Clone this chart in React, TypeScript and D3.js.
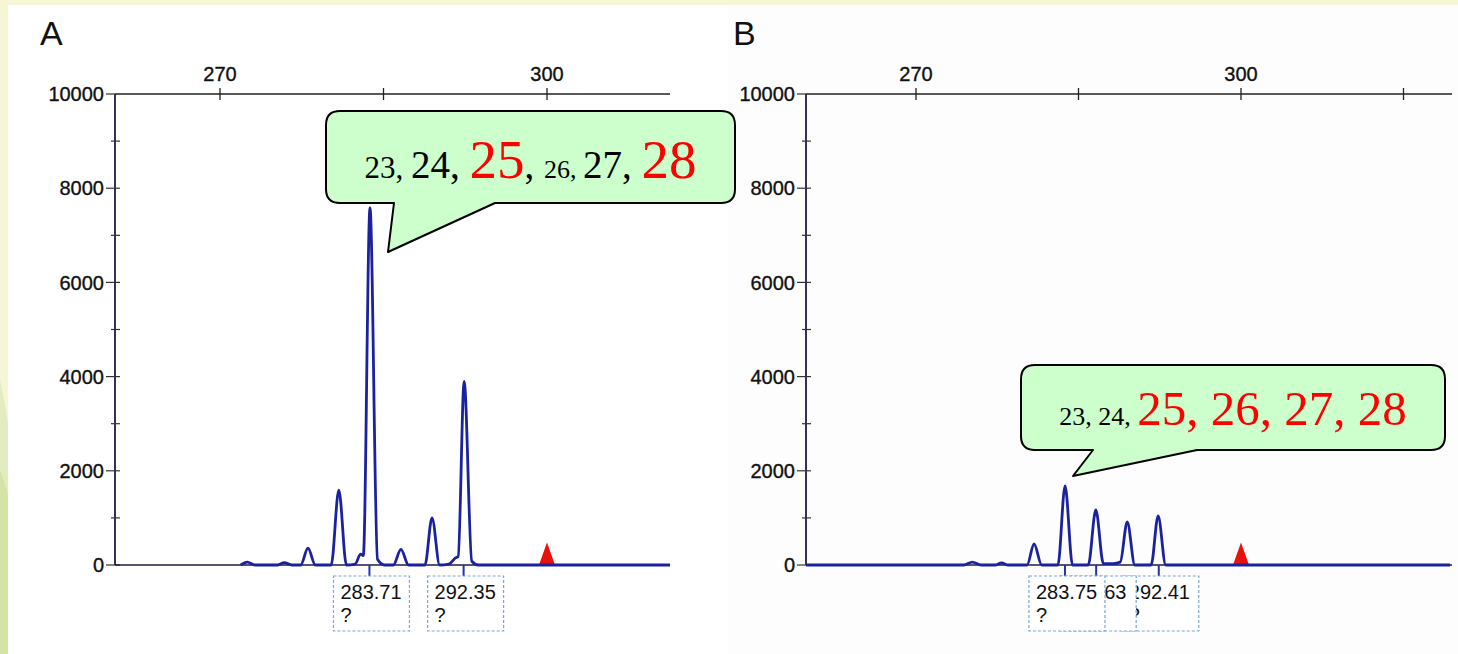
import React from "react";
import * as d3 from "d3";

// ---------- data ----------
const yTicks = [0, 2000, 4000, 6000, 8000, 10000];
const yMinorTicks = [1000, 3000, 5000, 7000, 9000];
const xTickLabelsA = [270, 300];
const xTicksA = [270, 285, 300];
const xTickLabelsB = [270, 300];
const xTicksB = [270, 285, 300, 315];

// trace key points [size (bp), RFU]
const traceA: [number, number][] = [
  [259, 0], [271.9, 0], [272.5, 60], [273.2, 0], [275.3, 0], [275.9, 50], [276.6, 0],
  [277.4, 0], [278.07, 360], [278.75, 0], [280.2, 0], [280.9, 1590], [281.6, 0],
  [282.4, 20], [282.9, 230], [283.15, 200], [283.76, 7580], [284.45, 120], [285.1, 0],
  [285.9, 0], [286.6, 330], [287.3, 0], [288.8, 0], [289.45, 1000], [290.15, 0],
  [291.0, 20], [291.6, 150], [291.85, 180], [292.4, 3900], [293.1, 80], [293.7, 0], [311.5, 0],
];
const traceB: [number, number][] = [
  [259.7, 0], [274.4, 0], [275.2, 60], [276.0, 0], [277.3, 0], [277.9, 45], [278.5, 0],
  [280.25, 0], [280.9, 446], [281.6, 0], [283.1, 0], [283.76, 1677], [284.45, 0],
  [285.9, 0], [286.6, 1168], [287.3, 30], [288.2, 30], [288.85, 60], [289.5, 913], [290.2, 0],
  [291.7, 0], [292.35, 1040], [293.05, 0], [319.3, 0],
];

const labelsA = [
  { size: 283.71, text: "283.71" },
  { size: 292.35, text: "292.35" },
];
// B: the middle box is mostly hidden under the first one; only "63" shows
const labelsB = [
  { size: 283.75, text: "283.75" },
  { size: 286.63, text: "63" },
  { size: 292.41, text: "292.41" },
];
const markerSize = 300; // red size-standard triangle
const markerHeight = 480;

const calloutA = [
  { t: "23, ", s: 31, c: "#000" },
  { t: "24, ", s: 39, c: "#000" },
  { t: "25", s: 55, c: "#ff0000" },
  { t: ", ", s: 39, c: "#000" },
  { t: "26, ", s: 26, c: "#000" },
  { t: "27, ", s: 39, c: "#000" },
  { t: "28", s: 55, c: "#ff0000" },
];
const calloutB = [
  { t: "23, ", s: 26, c: "#000" },
  { t: "24, ", s: 26, c: "#000" },
  { t: "25, 26, 27, 28", s: 49, c: "#ff0000" },
];

// ---------- panel ----------
type PanelProps = {
  letter: string;
  letterX: number;
  axisX: number;
  axisRight: number;
  x270: number;
  x300: number;
  trace: [number, number][];
  ticks: number[];
  tickLabels: number[];
  labels: { size: number; text: string }[];
  textOffsets: number[];
};

const TOP = 94;
const BASE = 565;
const font = "Liberation Sans, Arial, sans-serif";

function Panel(p: PanelProps) {
  const x = d3.scaleLinear().domain([270, 300]).range([p.x270, p.x300]);
  const y = d3.scaleLinear().domain([0, 10000]).range([BASE, TOP]);
  const lo = x.invert(p.axisX);
  const hi = x.invert(p.axisRight);
  const pts = p.trace.filter((d) => d[0] >= lo - 1 && d[0] <= hi + 1);
  const line = d3
    .line<[number, number]>()
    .x((d) => Math.max(p.axisX, Math.min(p.axisRight, x(d[0]))))
    .y((d) => y(d[1]))
    .curve(d3.curveMonotoneX);
  const boxW = 76;
  const boxTop = 576;
  const boxH = 55;
  const mx = x(markerSize);
  const my = y(markerHeight);
  const axisText = { fontFamily: font, fontSize: 20, fill: "#111", stroke: "#111", strokeWidth: 0.35 };
  return (
    <g>
      <text x={p.letterX} y={45} fontFamily={font} fontSize={34} fill="#111">
        {p.letter}
      </text>
      {/* top x axis */}
      <line x1={p.axisX} x2={p.axisRight} y1={TOP} y2={TOP} stroke="#222" strokeWidth={1.6} />
      {p.ticks.map((t) => (
        <line key={t} x1={x(t)} x2={x(t)} y1={TOP - 6} y2={TOP + 6} stroke="#222" strokeWidth={1.3} />
      ))}
      {p.tickLabels.map((t) => (
        <text key={t} x={x(t)} y={TOP - 13} textAnchor="middle" {...axisText}>
          {t}
        </text>
      ))}
      {/* y axis */}
      <line x1={p.axisX} x2={p.axisX} y1={TOP} y2={BASE} stroke="#1c1c48" strokeWidth={1.8} />
      {yTicks.map((t) => (
        <g key={t}>
          <line x1={p.axisX - 9} x2={t === 10000 ? p.axisX : p.axisX + 5} y1={y(t)} y2={y(t)} stroke="#333" strokeWidth={1.2} />
          <text x={p.axisX - 11} y={y(t)} dy="0.36em" textAnchor="end" {...axisText}>
            {t}
          </text>
        </g>
      ))}
      {yMinorTicks.map((t) => (
        <line key={t} x1={p.axisX - 4} x2={p.axisX + 5} y1={y(t)} y2={y(t)} stroke="#333" strokeWidth={1.2} />
      ))}
      {/* baseline */}
      <line x1={p.axisX} x2={p.axisRight} y1={BASE} y2={BASE} stroke="#1c1c48" strokeWidth={1.6} />
      {/* red marker */}
      <path d={`M${mx - 8},${BASE} L${mx},${my} L${mx + 8},${BASE} Z`} fill="#e8120c" />
      {/* trace */}
      <path d={line(pts) || ""} fill="none" stroke="#1a22a0" strokeWidth={2.8} strokeLinejoin="round" />
      {/* label ticks and boxes (last drawn first so earlier sit on top) */}
      {p.labels.map((l) => (
        <line key={"t" + l.text} x1={x(l.size)} x2={x(l.size)} y1={BASE} y2={boxTop} stroke="#2233aa" strokeWidth={2} />
      ))}
      {p.labels
        .map((l, i) => ({ l, i }))
        .reverse()
        .map(({ l, i }) => {
          const bx = x(l.size) - 36;
          const tx = bx + p.textOffsets[i];
          return (
            <g key={"b" + l.text}>
              <rect x={bx} y={boxTop} width={boxW} height={boxH} fill="#ffffff" stroke="#7aa6dc" strokeWidth={1.2} strokeDasharray="3,2" />
              <text x={tx} y={boxTop + 23} fontFamily={font} fontSize={20} fill="#111">
                {l.text}
              </text>
              {l.text !== "63" && (
                <text x={tx} y={boxTop + 46} fontFamily={font} fontSize={20} fill="#111">
                  ?
                </text>
              )}
            </g>
          );
        })}
    </g>
  );
}

function Callout(props: {
  x: number; y: number; w: number; h: number;
  tail: [number, number, number, number];
  parts: { t: string; s: number; c: string }[];
  baseline: number;
}) {
  const { x, y, w, h, tail, parts } = props;
  const r = 14;
  const [bl, br, tx, ty] = tail;
  const yb = y + h;
  const d = [
    `M${x + r},${y}`,
    `H${x + w - r}`,
    `Q${x + w},${y} ${x + w},${y + r}`,
    `V${yb - r}`,
    `Q${x + w},${yb} ${x + w - r},${yb}`,
    `H${br}`,
    `L${tx},${ty}`,
    `L${bl},${yb}`,
    `H${x + r}`,
    `Q${x},${yb} ${x},${yb - r}`,
    `V${y + r}`,
    `Q${x},${y} ${x + r},${y}`,
    "Z",
  ].join(" ");
  return (
    <g>
      <path d={d} fill="#ccffcc" stroke="#000" strokeWidth={2} strokeLinejoin="round" />
      <text x={x + w / 2} y={props.baseline} textAnchor="middle" fontFamily="Liberation Serif, Times New Roman, serif" style={{ whiteSpace: "pre" }}>
        {parts.map((p, i) => (
          <tspan key={i} fontSize={p.s} fill={p.c}>
            {p.t}
          </tspan>
        ))}
      </text>
    </g>
  );
}

export default function App() {
  return (
    <svg width={1458} height={654} style={{ position: "absolute", left: 0, top: 0, display: "block" }}>
      <rect x={0} y={0} width={1458} height={654} fill="#f6f6d6" />
      <path d="M0,380 C12,430 20,520 34,654 L0,654 Z" fill="#e3ecc0" />
      <path d="M0,470 C20,520 26,600 14,654 L0,654 Z" fill="#d4e3a8" />
      <rect x={8} y={5} width={1450} height={649} fill="#fdfdfd" />
      <rect x={8} y={5} width={720} height={649} fill="#ffffff" />
      <Panel
        letter="A" letterX={40} axisX={115} axisRight={670} x270={220} x300={547}
        trace={traceA} ticks={xTicksA} tickLabels={xTickLabelsA} labels={labelsA} textOffsets={[7, 7]}
      />
      <Panel
        letter="B" letterX={733} axisX={806} axisRight={1452} x270={916} x300={1241}
        trace={traceB} ticks={xTicksB} tickLabels={xTickLabelsB} labels={labelsB} textOffsets={[7, 44, 6]}
      />
      <Callout x={326} y={111} w={409} h={92} tail={[394, 495, 388, 252]} parts={calloutA} baseline={178} />
      <Callout x={1021} y={365} w={424} h={85} tail={[1093, 1197, 1073, 476]} parts={calloutB} baseline={425} />
    </svg>
  );
}
